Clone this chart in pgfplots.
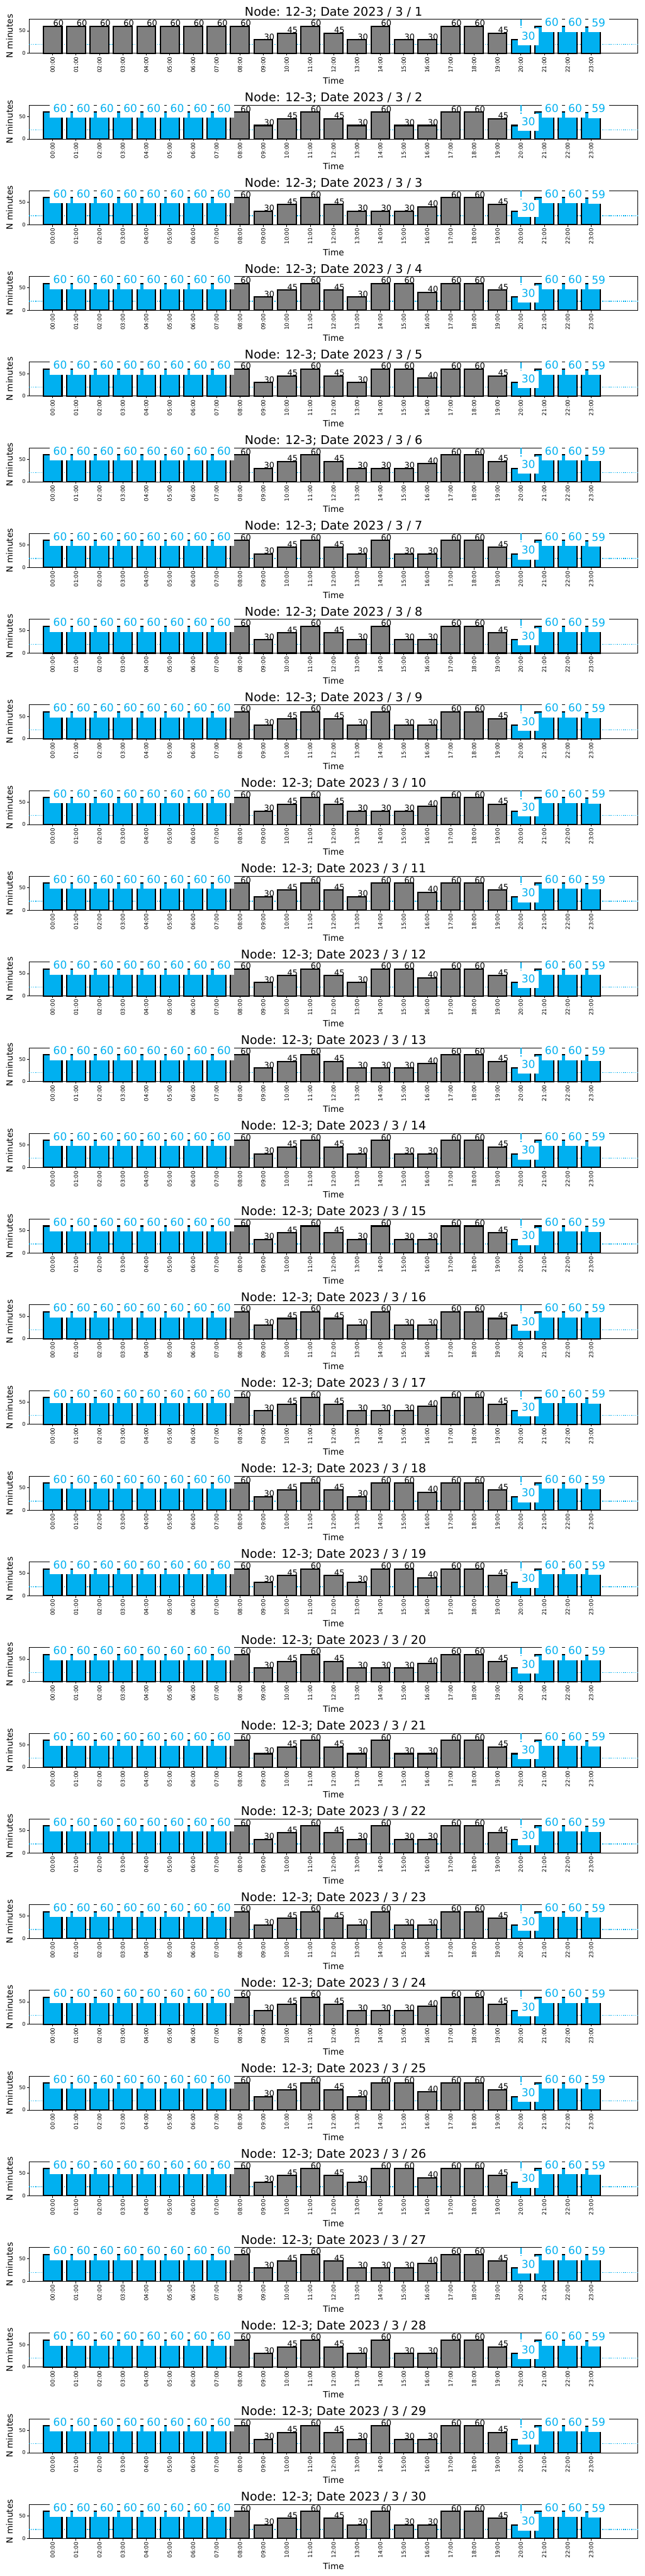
\documentclass[border=0pt]{standalone}
\usepackage{pgfplots}
\usepackage{pgfplotstable}
\pgfplotsset{compat=1.18}
\usepackage{fontspec}
\setmainfont{DejaVu Sans}
\definecolor{cyanc}{RGB}{0,176,240}
\definecolor{mgray}{RGB}{128,128,128}

% pattern D (3/1)
\pgfplotstableread{
h g b
0 60 nan
1 60 nan
2 60 nan
3 60 nan
4 60 nan
5 60 nan
6 60 nan
7 60 nan
8 60 nan
9 30 nan
10 45 nan
11 60 nan
12 45 nan
13 30 nan
14 60 nan
15 30 nan
16 30 nan
17 60 nan
18 60 nan
19 45 nan
20 nan 30
21 nan 60
22 nan 60
23 nan 59
}\tabD
% pattern C
\pgfplotstableread{
h g b
0 nan 60
1 nan 60
2 nan 60
3 nan 60
4 nan 60
5 nan 60
6 nan 60
7 nan 60
8 60 nan
9 30 nan
10 45 nan
11 60 nan
12 45 nan
13 30 nan
14 60 nan
15 30 nan
16 30 nan
17 60 nan
18 60 nan
19 45 nan
20 nan 30
21 nan 60
22 nan 60
23 nan 59
}\tabC
% pattern B
\pgfplotstableread{
h g b
0 nan 60
1 nan 60
2 nan 60
3 nan 60
4 nan 60
5 nan 60
6 nan 60
7 nan 60
8 60 nan
9 30 nan
10 45 nan
11 60 nan
12 45 nan
13 30 nan
14 30 nan
15 30 nan
16 40 nan
17 60 nan
18 60 nan
19 45 nan
20 nan 30
21 nan 60
22 nan 60
23 nan 59
}\tabB
% pattern A
\pgfplotstableread{
h g b
0 nan 60
1 nan 60
2 nan 60
3 nan 60
4 nan 60
5 nan 60
6 nan 60
7 nan 60
8 60 nan
9 30 nan
10 45 nan
11 60 nan
12 45 nan
13 30 nan
14 60 nan
15 60 nan
16 40 nan
17 60 nan
18 60 nan
19 45 nan
20 nan 30
21 nan 60
22 nan 60
23 nan 59
}\tabA

\pgfplotsset{
  /pgf/number format/assume math mode=true,
  panel/.style={
    scale only axis, width=708.5pt, height=39.5pt,
    anchor=north west,
    xmin=-1, xmax=25, ymin=0, ymax=75.6,
    clip=false,
    xtick={0,...,23},
    xticklabels={00:00,01:00,02:00,03:00,04:00,05:00,06:00,07:00,08:00,09:00,10:00,11:00,12:00,13:00,14:00,15:00,16:00,17:00,18:00,19:00,20:00,21:00,22:00,23:00},
    ytick={0,50},
    xtick pos=bottom, ytick pos=left,
    tick align=outside, major tick length=2.5pt,
    tick style={black, line width=0.5pt},
    axis line style={line width=0.5pt},
    xticklabel style={rotate=90, anchor=east, font=\fontsize{6.5}{7}\selectfont, inner sep=1.5pt},
    yticklabel style={font=\fontsize{6}{7}\selectfont, inner sep=1.5pt},
    xlabel={Time}, ylabel={N minutes},
    every axis x label/.style={at={(axis description cs:0.5,0)}, anchor=north, yshift=-28pt, inner sep=0pt, font=\fontsize{10}{12}\selectfont},
    every axis y label/.style={at={(axis description cs:-0.0325,0.5)}, rotate=90, anchor=center, inner sep=0pt, font=\fontsize{10}{12}\selectfont},
    every axis title/.style={at={(axis description cs:0.5,1)}, anchor=base, yshift=4pt, inner sep=0pt, font=\fontsize{14}{16}\selectfont},
  },
  graybar/.style={
    ybar, bar width=0.8, bar shift=0pt, fill=mgray, draw=black, line width=1.5pt,
    nodes near coords,
    every node near coord/.append style={anchor=base west, inner sep=0pt, font=\fontsize{9.5}{11}\selectfont, text=black},
  },
  cyanbar/.style={
    ybar, bar width=0.8, bar shift=0pt, fill=cyanc, draw=black, line width=1.5pt,
    nodes near coords,
    every node near coord/.append style={anchor=base west, inner sep=4pt, xshift=-4pt, text depth=2.5pt, fill=white, text=cyanc, font=\fontsize{12.5}{14}\selectfont},
  },
}

\newcommand{\panel}[3]{%
\begin{axis}[panel, at={(0pt,-#1*99.8pt)}, title={Node: 12-3; Date 2023 / 3 / #2}]
\draw[cyanc, line width=1pt, dash pattern=on 1pt off 1.4pt] (axis cs:-1,20) -- (axis cs:25,20);
\draw[cyanc, line width=1.5pt, dash pattern=on 7.5pt off 1.5pt on 1pt off 1.5pt] (axis cs:20,75.6) -- (axis cs:20,0);
\addplot[graybar] table[x=h,y=g]{#3};
\addplot[cyanbar] table[x=h,y=b]{#3};
\end{axis}}

\begin{document}
\begin{tikzpicture}
\panel{0}{1}{\tabD}
\panel{1}{2}{\tabC}
\panel{2}{3}{\tabB}
\panel{3}{4}{\tabA}
\panel{4}{5}{\tabA}
\panel{5}{6}{\tabB}
\panel{6}{7}{\tabC}
\panel{7}{8}{\tabC}
\panel{8}{9}{\tabC}
\panel{9}{10}{\tabB}
\panel{10}{11}{\tabA}
\panel{11}{12}{\tabA}
\panel{12}{13}{\tabB}
\panel{13}{14}{\tabC}
\panel{14}{15}{\tabC}
\panel{15}{16}{\tabC}
\panel{16}{17}{\tabB}
\panel{17}{18}{\tabA}
\panel{18}{19}{\tabA}
\panel{19}{20}{\tabB}
\panel{20}{21}{\tabC}
\panel{21}{22}{\tabC}
\panel{22}{23}{\tabC}
\panel{23}{24}{\tabB}
\panel{24}{25}{\tabA}
\panel{25}{26}{\tabA}
\panel{26}{27}{\tabB}
\panel{27}{28}{\tabC}
\panel{28}{29}{\tabC}
\panel{29}{30}{\tabC}
\pgfresetboundingbox
\useasboundingbox (-34pt,22.5pt) rectangle (716pt,-2977.5pt);
\end{tikzpicture}
\end{document}
